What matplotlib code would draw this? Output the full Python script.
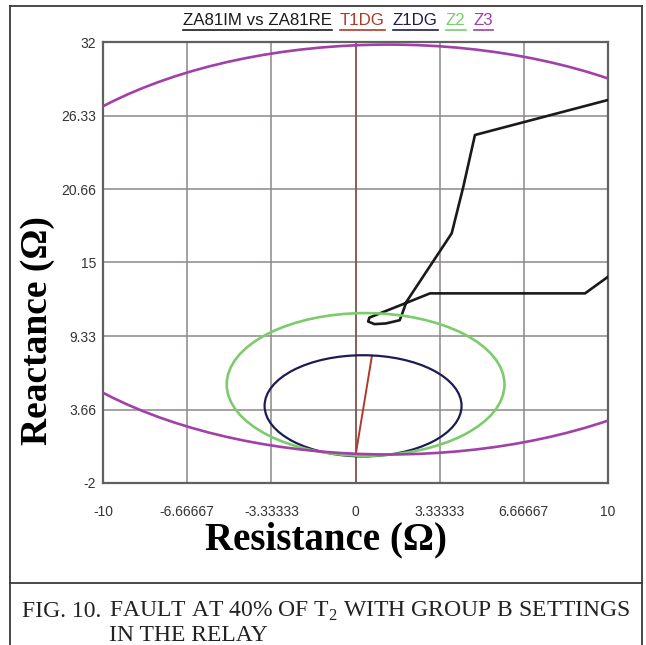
import matplotlib
matplotlib.use('Agg')
import matplotlib.pyplot as plt
from matplotlib.patches import Circle
from matplotlib.lines import Line2D

# axis ticks as printed by the relay software
x_ticks = [-10, -6.66667, -3.33333, 0, 3.33333, 6.66667, 10]
x_tick_labels = ['-10', '-6.66667', '-3.33333', '0', '3.33333', '6.66667', '10']
y_ticks = [-2, 3.66, 9.33, 15, 20.66, 26.33, 32]
y_tick_labels = ['-2', '3.66', '9.33', '15', '20.66', '26.33', '32']

# apparent impedance trajectory ZA81IM vs ZA81RE (ohm)
za81_re = [10.0, 4.73, 4.27, 3.81, 2.02, 1.83, 1.75, 1.2, 0.75, 0.5, 0.55, 1.03, 2.03, 2.95, 9.09, 10.0]
za81_im = [27.53, 24.83, 20.84, 17.25, 11.98, 10.95, 10.55, 10.3, 10.25, 10.45, 10.75, 11.13, 11.9, 12.62, 12.62, 13.9]

# T1DG line angle
t1dg_re = [0.0, 0.65]
t1dg_im = [0.1, 7.8]

# mho zones, centre (R, X) and radius
z1_centre = (0.3, 3.95)
z1_radius = 3.9
z2_centre = (0.4, 5.6)
z2_radius = 5.5
z3_centre = (1.3, 16.0)
z3_radius = 15.8

legend_names = ['ZA81IM vs ZA81RE', 'T1DG', 'Z1DG', 'Z2', 'Z3']
legend_colors = ['#1a1a1a', '#b0392a', '#1c1c55', '#7ccc6c', '#a040a8']

plt.rcParams['mathtext.fontset'] = 'custom'
plt.rcParams['mathtext.rm'] = 'Liberation Serif'

W, H = 646, 645
fig = plt.figure(figsize=(W / 100, H / 100), dpi=100)
ax = fig.add_axes([103 / W, 1 - 483 / H, 505 / W, 441 / H])

ax.plot(za81_re, za81_im, color=legend_colors[0], lw=1.9, zorder=3)
ax.plot(t1dg_re, t1dg_im, color=legend_colors[1], lw=1.4, zorder=4)
ax.add_patch(Circle(z1_centre, z1_radius, fill=False, ec=legend_colors[2], lw=1.6, zorder=5))
ax.add_patch(Circle(z2_centre, z2_radius, fill=False, ec=legend_colors[3], lw=1.9, zorder=6))
ax.add_patch(Circle(z3_centre, z3_radius, fill=False, ec=legend_colors[4], lw=1.9, zorder=7))

ax.axvline(0, color='#85564c', lw=1.2, zorder=1)

ax.set_xlim(-10, 10)
ax.set_ylim(-2, 32)
ax.set_xticks(x_ticks)
ax.set_xticklabels(x_tick_labels)
ax.set_yticks(y_ticks)
ax.set_yticklabels(y_tick_labels)
ax.grid(True, color='#8e8888', lw=1.1)
ax.set_axisbelow(True)
ax.tick_params(length=0, labelsize=10, labelcolor='#333333')
ax.tick_params(axis='x', pad=16)
ax.tick_params(axis='y', pad=5)
for lab in ax.get_xticklabels() + ax.get_yticklabels():
    lab.set_family(['Liberation Sans'])
for sp in ax.spines.values():
    sp.set_color('#606060')
    sp.set_linewidth(1.6)

# axis titles
fig.text(326 / W, 1 - 540 / H, 'Resistance (Ω)', family='Liberation Serif', weight='bold',
         size=28, ha='center', va='center')
fig.text(38 / W, 1 - 331 / H, 'Reactance (Ω)', family='Liberation Serif', weight='bold',
         size=27, ha='center', va='center', rotation=90)

# underlined legend along the top
fig.canvas.draw()
renderer = fig.canvas.get_renderer()
x_cur = 183
for name, col in zip(legend_names, legend_colors):
    t = fig.text(x_cur / W, 1 - 25 / H, name, color=col, family='Liberation Sans',
                 size=12.2, ha='left', va='baseline')
    bb = t.get_window_extent(renderer)
    fig.add_artist(Line2D([bb.x0 / W, bb.x1 / W], [1 - 30 / H, 1 - 30 / H],
                          color=col, lw=1.2, transform=fig.transFigure))
    x_cur = bb.x1 + 8

# outer frame and caption box
frame = dict(color='#3a3a3a', lw=1.3, transform=fig.transFigure)
fig.add_artist(Line2D([10 / W, 642 / W], [1 - 6 / H, 1 - 6 / H], **frame))
fig.add_artist(Line2D([10 / W, 10 / W], [0, 1 - 6 / H], **frame))
fig.add_artist(Line2D([642 / W, 642 / W], [0, 1 - 6 / H], **frame))
fig.add_artist(Line2D([10 / W, 642 / W], [1 - 583 / H, 1 - 583 / H], **frame))

fig.text(22 / W, 1 - 617 / H, 'FIG. 10.', family='Liberation Serif', size=17,
         ha='left', va='baseline', color='#222222')
fig.text(109 / W, 1 - 617 / H, 'FAULT AT 40% OF T$_2$ WITH GROUP B SETTINGS',
         family='Liberation Serif', size=17, ha='left', va='baseline', color='#222222')
fig.text(109 / W, 1 - 641 / H, 'IN THE RELAY', family='Liberation Serif', size=17,
         ha='left', va='baseline', color='#222222')

fig.savefig('out.png', dpi=100)
